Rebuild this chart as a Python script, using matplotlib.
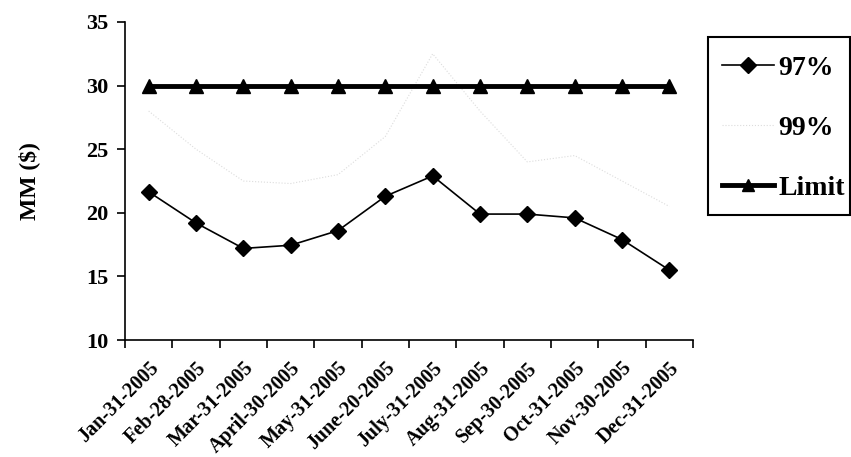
import numpy as np
import matplotlib
matplotlib.use("Agg")
import matplotlib.pyplot as plt
from matplotlib.lines import Line2D
from matplotlib.patches import Rectangle
from matplotlib.transforms import ScaledTranslation

categories = ["Jan-31-2005", "Feb-28-2005", "Mar-31-2005", "April-30-2005",
              "May-31-2005", "June-20-2005", "July-31-2005", "Aug-31-2005",
              "Sep-30-2005", "Oct-31-2005", "Nov-30-2005", "Dec-31-2005"]
s97 = [21.65, 19.2, 17.2, 17.45, 18.6, 21.3, 22.9, 19.9, 19.9, 19.6, 17.9, 15.5]
s99 = [28.0, 25.0, 22.5, 22.3, 23.0, 26.0, 32.5, 28.0, 24.0, 24.5, 22.5, 20.5]
limit = [30] * 12
yticks = [10, 15, 20, 25, 30, 35]

plt.rcParams['font.family'] = ['Liberation Serif', 'DejaVu Serif']
plt.rcParams['font.weight'] = 'bold'

W, H = 851, 457
fig = plt.figure(figsize=(W/100, H/100), dpi=100)
ax = fig.add_axes([125/W, 1-340/H, 568/W, 318/H])

x = np.arange(len(categories))
ax.plot(x, s99, color='#dcdcdc', lw=0.8, ls=':', label='99%', zorder=2)
ax.plot(x, s97, color='black', lw=1.2, marker='D', ms=8.5, label='97%', zorder=3)
ax.plot(x, limit, color='black', lw=3.5, marker='^', ms=9.5, label='Limit', zorder=4)

ax.set_xlim(-0.5, 11.5)
ax.set_ylim(10, 35)
ax.set_yticks(yticks)
ax.set_yticklabels([str(v) for v in yticks], fontsize=16, fontweight='bold')
ax.set_xticks(x)
ax.set_xticklabels(categories, rotation=45, ha='right', rotation_mode='anchor',
                   fontsize=14.5, fontweight='bold')
shift = ScaledTranslation(-10/100, 0, fig.dpi_scale_trans)
for lbl in ax.get_xticklabels():
    lbl.set_transform(lbl.get_transform() + shift)
ax.set_xticks(np.arange(-0.5, 12, 1), minor=True)
ax.tick_params(axis='x', which='major', length=0, pad=13)
ax.tick_params(axis='x', which='minor', length=6, width=1.2, direction='out')
ax.tick_params(axis='y', length=6, width=1.2, direction='out', pad=6)
for side in ['top', 'right']:
    ax.spines[side].set_visible(False)
for side in ['left', 'bottom']:
    ax.spines[side].set_linewidth(1.2)

ax.set_ylabel('MM ($)', fontsize=17, fontweight='bold')
ax.yaxis.set_label_coords((40-125)/568, 0.5)

handles = [
    Line2D([], [], color='black', lw=1.2, marker='D', ms=8),
    Line2D([], [], color='#dcdcdc', lw=0.8, ls=':'),
    Line2D([], [], color='black', lw=3.5, marker='^', ms=8),
]
leg = fig.legend(handles, ['97%', '99%', 'Limit'], loc='upper left',
                 bbox_to_anchor=(711/W, 1-44/H), bbox_transform=fig.transFigure,
                 prop={'size': 20, 'weight': 'bold'}, frameon=False,
                 handlelength=1.85, labelspacing=1.25,
                 borderpad=0.4, handletextpad=0.18, borderaxespad=0)
frame = Rectangle((708/W, 1-215/H), 142/W, 178/H, transform=fig.transFigure,
                  fill=False, edgecolor='black', lw=1.5)
fig.patches.append(frame)

fig.savefig('out.png', dpi=100)
